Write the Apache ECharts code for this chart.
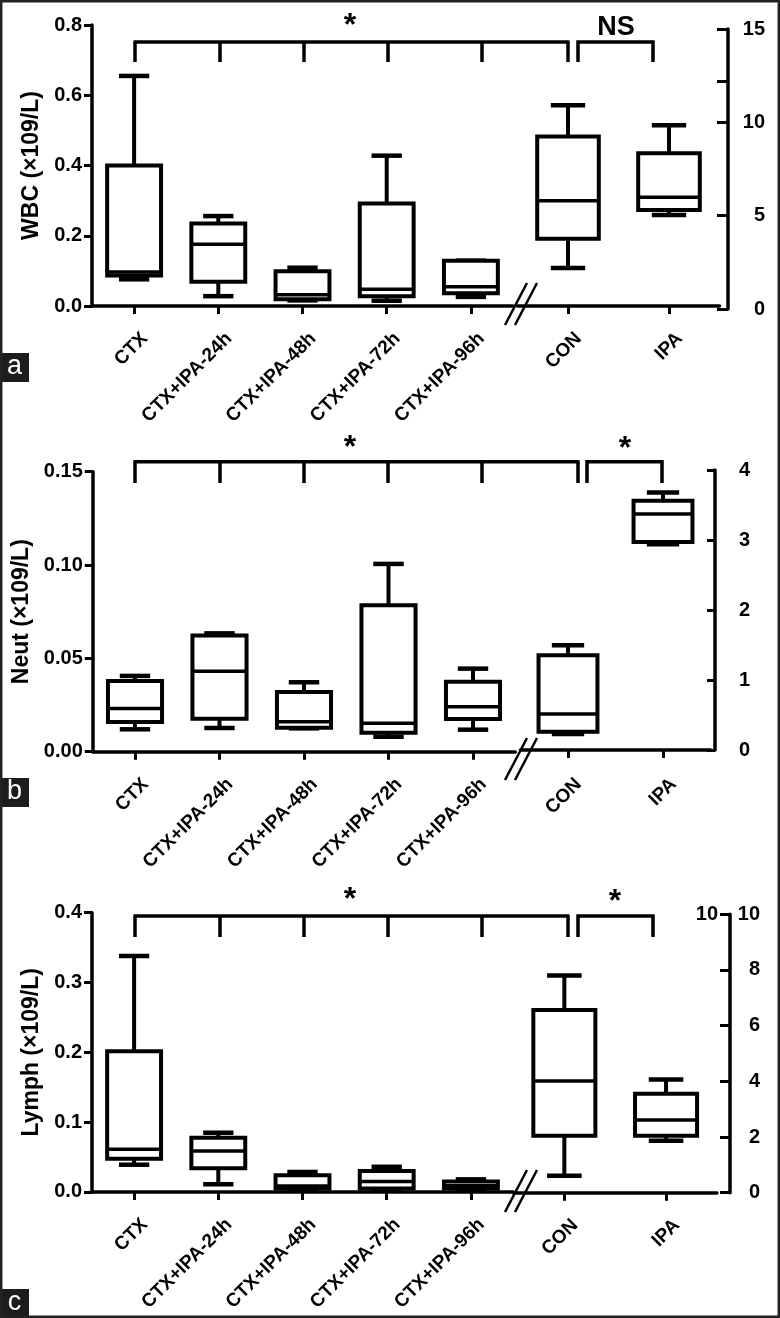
<!DOCTYPE html>
<html><head><meta charset="utf-8">
<script src="https://cdn.jsdelivr.net/npm/echarts@6/dist/echarts.min.js"></script>
<style>html,body{margin:0;padding:0;background:#fff}#c{width:780px;height:1318px}</style>
</head><body><div id="c"></div>
<script>
// ---------- categories ----------
const ctxGroups = ['CTX', 'CTX+IPA-24h', 'CTX+IPA-48h', 'CTX+IPA-72h', 'CTX+IPA-96h'];
const refGroups = ['CON', 'IPA'];

// ---------- box statistics: [min, Q1, median, Q3, max] ----------
// WBC (left axis for CTX groups, right axis for CON / IPA)
const wbcCtx = [
  [0.076, 0.087, 0.097, 0.400, 0.655],
  [0.028, 0.069, 0.176, 0.235, 0.256],
  [0.016, 0.019, 0.032, 0.099, 0.109],
  [0.015, 0.028, 0.048, 0.292, 0.428],
  [0.026, 0.036, 0.055, 0.129, 0.129]
];
const wbcRef = [
  [2.20, 3.76, 5.80, 9.24, 10.92],
  [5.03, 5.30, 5.98, 8.34, 9.84]
];
// Neut
const neutCtx = [
  [0.0120, 0.0159, 0.0232, 0.0379, 0.0406],
  [0.0127, 0.0177, 0.0431, 0.0623, 0.0634],
  [0.0125, 0.0128, 0.0160, 0.0320, 0.0372],
  [0.0080, 0.0102, 0.0152, 0.0784, 0.1006],
  [0.0118, 0.0175, 0.0241, 0.0375, 0.0445]
];
const neutRef = [
  [0.229, 0.262, 0.514, 1.352, 1.495],
  [2.94, 2.97, 3.37, 3.56, 3.68]
];
// Lymph
const lymphCtx = [
  [0.039, 0.0476, 0.061, 0.2014, 0.338],
  [0.011, 0.0338, 0.0586, 0.0777, 0.0848],
  [0.004, 0.005, 0.0086, 0.024, 0.0286],
  [0.003, 0.005, 0.015, 0.030, 0.036],
  [0.004, 0.005, 0.009, 0.0148, 0.018]
];
const lymphRef = [
  [0.61, 2.05, 4.01, 6.56, 7.80],
  [1.87, 2.05, 2.61, 3.55, 4.07]
];

// ---------- axis tick values ----------
const wbcLeftTicks = [0, 0.8, 0.2];      // min, max, interval
const wbcRightTicks = [0, 15, 5];
const wbcRightTickMarks = [0, 5, 10, 12.2, 15];
const neutLeftTicks = [0, 0.15, 0.05];
const neutRightTicks = [0, 4, 1];
const lymphLeftTicks = [0, 0.4, 0.1];
const lymphRightTicks = [0, 10, 2];

const axisNames = ['WBC (\u00d7109/L)', 'Neut (\u00d7109/L)', 'Lymph (\u00d7109/L)'];
const panelLetters = ['a', 'b', 'c'];

const FONT = '"Liberation Sans", Arial, Helvetica, sans-serif';

// ---------- layout (pixels) ----------
const panels = [
  { L: {left: 92, top: 25, width: 421, height: 281},
    R: {left: 517.5, top: 29, width: 202, height: 280}, rXOff: -3, rYOff: 8.5, rLabelMargin: 37, rTickLen: 11,
    lGap: 48, lDec: 1, right: {ticks: wbcRightTicks, marks: wbcRightTickMarks}, left: wbcLeftTicks,
    ctx: wbcCtx, ref: wbcRef, rRatio: 0.61,
    brTop: 42, brBot: 62, drops: [135, 220, 304, 388, 482, 568], br2: [578, 653],
    t1: {x: 350, y: 26, s: '*'}, t2: {x: 616, y: 28, s: 'NS', size: 27},
    brk: {x: 505, y: 325}, letter: 353 },
  { L: {left: 92.75, top: 471.7, width: 422.5, height: 280},
    R: {left: 520.5, top: 470, width: 190, height: 280}, rXOff: 1.7, rYOff: 4.5, rLabelMargin: 35, rTickLen: 8,
    lGap: 56, lDec: 2, right: {ticks: neutRightTicks}, left: neutLeftTicks,
    ctx: neutCtx, ref: neutRef, rRatio: 0.62,
    brTop: 461.7, brBot: 483, drops: [135, 220, 304, 388, 482, 578], br2: [587, 662],
    t1: {x: 350, y: 448, s: '*'}, t2: {x: 625, y: 449, s: '*'},
    brk: {x: 505, y: 780}, letter: 778 },
  { L: {left: 92, top: 912.7, width: 421, height: 280},
    R: {left: 513.5, top: 914.3, width: 203.4, height: 278.4}, rXOff: 0, rYOff: 13.1, rLabelMargin: 30, rTickLen: 10,
    lGap: 47, lDec: 1, right: {ticks: lymphRightTicks, dup: true}, left: lymphLeftTicks,
    ctx: lymphCtx, ref: lymphRef, rRatio: 0.61,
    brTop: 916, brBot: 937, drops: [135, 220, 304, 388, 482, 568], br2: [578, 653],
    t1: {x: 350, y: 900, s: '*'}, t2: {x: 615, y: 902, s: '*'},
    brk: {x: 505, y: 1212}, letter: 1289 }
];

function boxRender(ratio, capRatio) {
  return function (params, api) {
    const x = api.value(0);
    const band = api.size([1, 0])[0];
    const w = band * ratio, cw = band * capRatio;
    const p = [1, 2, 3, 4, 5].map(i => api.coord([x, api.value(i)]));
    const cx = p[0][0];
    const yMin = p[0][1], yQ1 = p[1][1], yMed = p[2][1], yQ3 = p[3][1], yMax = p[4][1];
    const ln = {stroke: '#000', lineWidth: 4};
    const cap = {stroke: '#000', lineWidth: 4.5};
    return {type: 'group', children: [
      {type: 'line', shape: {x1: cx, y1: yQ3, x2: cx, y2: yMax}, style: ln},
      {type: 'line', shape: {x1: cx, y1: yQ1, x2: cx, y2: yMin}, style: ln},
      {type: 'line', shape: {x1: cx - cw / 2, y1: yMax, x2: cx + cw / 2, y2: yMax}, style: cap},
      {type: 'line', shape: {x1: cx - cw / 2, y1: yMin, x2: cx + cw / 2, y2: yMin}, style: cap},
      {type: 'rect', shape: {x: cx - w / 2, y: yQ3, width: w, height: yQ1 - yQ3}, style: {fill: '#fff', stroke: '#000', lineWidth: 4}},
      {type: 'line', shape: {x1: cx - w / 2, y1: yMed, x2: cx + w / 2, y2: yMed}, style: {stroke: '#000', lineWidth: 3.5}}
    ]};
  };
}

const grid = [], xAxis = [], yAxis = [], series = [], graphic = [];

function xAxisCfg(gi, data, offset) {
  return {
    type: 'category', gridIndex: gi, data: data, offset: offset || 0,
    axisLine: {show: true, lineStyle: {color: '#000', width: 3.5}},
    axisTick: {show: true, alignWithLabel: true, length: 8, lineStyle: {color: '#000', width: 3}},
    axisLabel: {interval: 0, rotate: 45, margin: 19, verticalAlign: 'top', lineHeight: 30,
      color: '#000', fontSize: 19, fontWeight: 'bold', fontFamily: FONT},
    splitLine: {show: false}
  };
}

panels.forEach((P, pi) => {
  const gL = grid.length;
  grid.push(Object.assign({containLabel: false}, P.L));
  grid.push(Object.assign({containLabel: false}, P.R));
  xAxis.push(xAxisCfg(gL, ctxGroups, 0));
  xAxis.push(xAxisCfg(gL + 1, refGroups, P.rXOff));

  const yl = yAxis.length;
  yAxis.push({
    type: 'value', gridIndex: gL, min: P.left[0], max: P.left[1], interval: P.left[2],
    name: axisNames[pi], nameLocation: 'middle', nameGap: P.lGap,
    nameTextStyle: {fontSize: 23, fontWeight: 'bold', color: '#000', fontFamily: FONT},
    axisLine: {show: true, lineStyle: {color: '#000', width: 3.5}},
    axisTick: {show: true, length: 8, lineStyle: {color: '#000', width: 3}},
    axisLabel: {margin: 10, color: '#000', fontSize: 20, fontWeight: 'bold', fontFamily: FONT,
      formatter: v => v.toFixed(P.lDec)},
    splitLine: {show: false}
  });
  const rt = P.right.ticks;
  const yr = {
    type: 'value', gridIndex: gL + 1, position: 'right', offset: P.rYOff,
    min: rt[0], max: rt[1], interval: rt[2],
    axisLine: {show: true, lineStyle: {color: '#000', width: 3.5}},
    axisTick: {show: true, inside: true, length: P.rTickLen, lineStyle: {color: '#000', width: 3}},
    axisLabel: {margin: P.rLabelMargin, align: 'right', color: '#000', fontSize: 20, fontWeight: 'bold', fontFamily: FONT},
    splitLine: {show: false}
  };
  if (P.right.marks) yr.axisTick.customValues = P.right.marks;
  yAxis.push(yr);
  if (P.right.dup) {
    yAxis.push({
      type: 'value', gridIndex: gL + 1, position: 'right', offset: P.rYOff,
      min: rt[0], max: rt[1], interval: rt[2],
      axisLine: {show: false}, axisTick: {show: false}, splitLine: {show: false},
      axisLabel: {inside: true, margin: 12, align: 'right', customValues: [rt[1]], color: '#000', fontSize: 20, fontWeight: 'bold', fontFamily: FONT}
    });
  }

  series.push({
    type: 'custom', xAxisIndex: gL, yAxisIndex: yl,
    renderItem: boxRender(0.64, 0.36),
    encode: {x: 0, y: [1, 2, 3, 4, 5]},
    data: P.ctx.map((d, i) => [i].concat(d)), z: 3
  });
  series.push({
    type: 'custom', xAxisIndex: gL + 1, yAxisIndex: yl + 1,
    renderItem: boxRender(P.rRatio, 0.34),
    encode: {x: 0, y: [1, 2, 3, 4, 5]},
    data: P.ref.map((d, i) => [i].concat(d)), z: 3
  });

  // significance brackets
  const bs = {stroke: '#000', lineWidth: 3.5};
  const d = P.drops;
  graphic.push({type: 'line', shape: {x1: d[0] - 1.5, y1: P.brTop, x2: d[d.length - 1] + 1.5, y2: P.brTop}, style: bs});
  d.forEach(x => graphic.push({type: 'line', shape: {x1: x, y1: P.brTop, x2: x, y2: P.brBot}, style: bs}));
  graphic.push({type: 'polyline', shape: {points: [[P.br2[0], P.brBot], [P.br2[0], P.brTop], [P.br2[1], P.brTop], [P.br2[1], P.brBot]]}, style: {stroke: '#000', lineWidth: 3.5, fill: 'none'}});
  [P.t1, P.t2].forEach(t => graphic.push({type: 'text', x: t.x, y: t.y,
    style: {text: t.s, fill: '#000', font: 'bold ' + (t.size || 32) + 'px ' + FONT, align: 'center', verticalAlign: 'middle'}}));

  // axis break marks
  [0, 10].forEach(o => graphic.push({type: 'line',
    shape: {x1: P.brk.x + o, y1: P.brk.y, x2: P.brk.x + o + 22, y2: P.brk.y - 42},
    style: {stroke: '#000', lineWidth: 2.5}}));

  // panel letter
  graphic.push({type: 'rect', shape: {x: 0, y: P.letter, width: 29, height: 29}, style: {fill: '#1c1c1c'}, z: 10});
  graphic.push({type: 'text', x: 14.5, y: P.letter + 14, z: 11,
    style: {text: panelLetters[pi], fill: '#fff', font: '27px ' + FONT, align: 'center', verticalAlign: 'middle'}});
});

// frame
graphic.push({type: 'rect', shape: {x: 1.2, y: 1.2, width: 777.6, height: 1315.6}, style: {fill: 'none', stroke: '#222', lineWidth: 2.5}, z: 12});

const chart = echarts.init(document.getElementById('c'), null, {renderer: 'canvas'});
chart.setOption({
  animation: false,
  backgroundColor: '#fff',
  grid, xAxis, yAxis, series, graphic
});
</script>
</body></html>
